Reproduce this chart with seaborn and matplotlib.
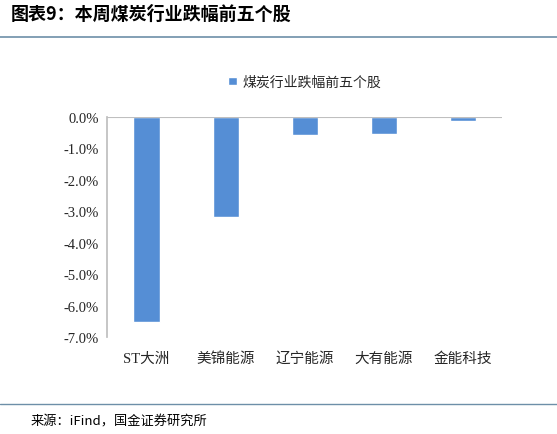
import matplotlib
matplotlib.use('Agg')
import matplotlib.pyplot as plt
import seaborn as sns
import pandas as pd

sns.set_theme(style="white")
plt.rcParams['font.family'] = ['Noto Sans CJK SC', 'DejaVu Sans']

stocks = ['ST大洲', '美锦能源', '辽宁能源', '大有能源', '金能科技']
changes = [-6.50, -3.17, -0.58, -0.55, -0.13]
series_name = '煤炭行业跌幅前五个股'
yticks = [0, -1, -2, -3, -4, -5, -6, -7]

df = pd.DataFrame({'stock': stocks, 'change': changes, 'series': series_name})

fig = plt.figure(figsize=(5.57, 4.35), dpi=100)
ax = fig.add_axes([0.192, 0.222, 0.71, 0.507])
sns.barplot(data=df, x='stock', y='change', hue='series', palette=['#558ED5'],
            saturation=1, width=0.33, ax=ax, legend=True)

ax.set_ylim(-7, 0)
ax.set_yticks(yticks)
ax.set_yticklabels([f'{v:.1f}%' for v in yticks], fontsize=10.5,
                   family=['Times New Roman', 'Liberation Serif', 'Noto Sans CJK SC'])
ax.tick_params(axis='x', labelsize=10.5, length=0, pad=10)
ax.tick_params(axis='y', length=0, pad=6)
for lbl in ax.get_xticklabels():
    lbl.set_family(['Liberation Serif', 'Noto Sans CJK SC'])
ax.set_xlabel('')
ax.set_ylabel('')
for s in ['top', 'right', 'bottom']:
    ax.spines[s].set_visible(False)
ax.spines['left'].set_color('#bfbfbf')
ax.axhline(0, color='#bfbfbf', lw=0.8)

ax.legend(loc='lower center', bbox_to_anchor=(0.5, 1.07), frameon=False,
          fontsize=10, handlelength=0.6, handleheight=0.6, handletextpad=0.4)

fig.text(0.02, 0.955, '图表9：本周煤炭行业跌幅前五个股', fontsize=13, fontweight='bold',
         fontstyle='italic', color='black')
fig.add_artist(plt.Line2D([0.0, 1.0], [0.912, 0.912], color='#6d8fa8', lw=1.2))
fig.add_artist(plt.Line2D([0.0, 1.0], [0.068, 0.068], color='#6d8fa8', lw=1.0))
fig.text(0.055, 0.022, '来源：iFind，国金证券研究所', fontsize=9.5, color='black')

fig.savefig('out.png', dpi=100)
